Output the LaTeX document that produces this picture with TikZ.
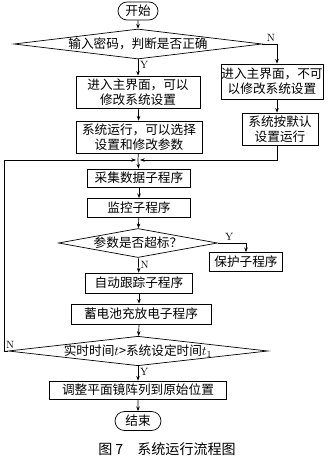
\documentclass[tikz,border=0pt]{standalone}
\usepackage{fontspec}
\newfontfamily\cjk{Noto Sans CJK SC}
\usepackage{tikz}
\usetikzlibrary{shapes.geometric,shapes.misc,arrows.meta,calc}

\tikzset{
    box/.style={draw,rectangle,inner sep=0pt,align=center,font=\cjk\fontsize{10.8}{12.8}\selectfont},
    term/.style={draw,rounded rectangle,inner sep=0pt,font=\cjk\fontsize{10.8}{12.8}\selectfont},
    decision/.style={draw,diamond,inner sep=0pt,font=\cjk\fontsize{10.8}{12.8}\selectfont},
    lbl/.style={font=\fontsize{9}{10}\selectfont,inner sep=1.5pt}
}

\begin{document}
\begin{tikzpicture}[x=0.03cm,y=-0.03cm,line width=0.6pt,>={Stealth[length=4pt,width=3pt]}]
    \useasboundingbox (0,0) rectangle (330,459);
    \node[term,minimum width=1.2cm,minimum height=0.54cm] (start) at (138,11) {开始};
    \node[decision,aspect=8.3,minimum width=7.44cm,minimum height=0.9cm] (pwd) at (138,44) {输入密码，判断是否正确};
    \node[box,minimum width=3.72cm,minimum height=0.96cm] (menuok) at (138,92) {进入主界面，可以\\修改系统设置};
    \node[box,minimum width=3.06cm,minimum height=1.05cm] (menuno) at (272,81.5) {进入主界面，不可\\以修改系统设置};
    \node[box,minimum width=2.28cm,minimum height=0.96cm] (default) at (280,129) {系统按默认\\设置运行};
    \node[box,minimum width=3.78cm,minimum height=0.96cm] (run) at (139,137) {系统运行，可以选择\\设置和修改参数};
    \coordinate (join) at (138,160);
    \coordinate (rx) at (277,160);
    \node[box,minimum width=3.09cm,minimum height=0.54cm] (collect) at (139,178) {采集数据子程序};
    \node[box,minimum width=3.09cm,minimum height=0.57cm] (monitor) at (139,208) {监控子程序};
    \node[decision,aspect=5.5,minimum width=4.77cm,minimum height=0.87cm] (limit) at (138,243) {参数是否超标？};
    \node[box,minimum width=2.19cm,minimum height=0.57cm] (protect) at (246,262) {保护子程序};
    \node[box,minimum width=3.21cm,minimum height=0.6cm] (track) at (139,283) {自动跟踪子程序};
    \node[box,minimum width=4.2cm,minimum height=0.6cm] (battery) at (141,314) {蓄电池充放电子程序};
    \node[decision,aspect=8.8,minimum width=7.44cm,minimum height=0.84cm] (timeup) at (138,351) {实时时间$t$>系统设定时间$t_1$};
    \coordinate (lx) at (4,351);
    \node[box,minimum width=5.31cm,minimum height=0.54cm] (reset) at (138,390) {调整平面镜阵列到原始位置};
    \node[term,minimum width=1.38cm,minimum height=0.57cm] (stop) at (138,421) {结束};
    \node[font=\cjk\fontsize{12}{14}\selectfont] (caption) at (167,449) {图 7\quad 系统运行流程图};

    \draw[->] (start) -- (pwd);
    \draw[->] (pwd) -- node[lbl,right,pos=0.35] {Y} (menuok);
    \draw[->] (pwd.east) -| node[lbl,above left,pos=0.5] {N} (menuno.north -| rx);
    \draw[->] (menuok) -- (run);
    \draw[->] (menuno.south -| rx) -- (default.north -| rx);
    \draw (run) -- (join);
    \draw[->] (default.south -| rx) -- (rx) -- ($(join)+(2,0)$);
    \draw[->] (timeup.west) -- (lx) node[lbl,above right] {N} |- ($(join)+(-2,0)$);
    \draw[->] (join) -- (collect);
    \draw[->] (collect) -- (monitor);
    \draw[->] (monitor) -- (limit);
    \draw[->] (limit.east) -| node[lbl,above,pos=0.2] {Y} (protect);
    \draw[->] (limit) -- node[lbl,right,pos=0.45] {N} (track);
    \draw[->] (track) -- (battery.north -| track);
    \draw[->] (battery.south -| track) -- (timeup);
    \draw[->] (timeup) -- node[lbl,right,pos=0.4] {Y} (reset);
    \draw[->] (reset) -- (stop);
\end{tikzpicture}
\end{document}
